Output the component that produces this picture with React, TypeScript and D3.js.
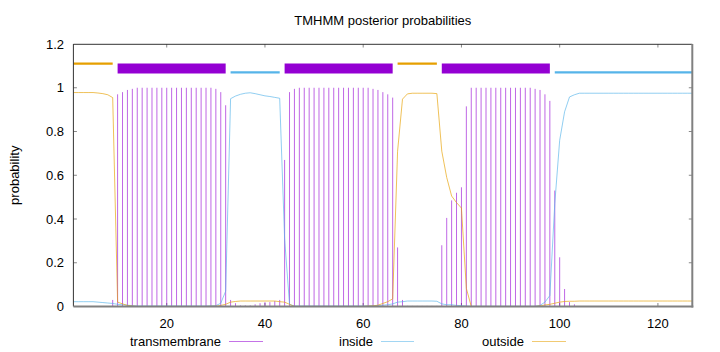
import React from "react";
import * as d3 from "d3";

// ---- data ----
const seqLength = 127;

const tmProb = [
  0, 0, 0, 0, 0, 0, 0, 0.002,
  0.03,
  0.97, 0.98, 0.99, 0.995,
  1, 1, 1, 1, 1, 1, 1, 1, 1, 1, 1, 1, 1, 1, 1, 1,
  0.995, 0.98, 0.92,
  0.03, 0.015, 0.005, 0.005, 0.005, 0.01, 0.015, 0.02, 0.02, 0.025, 0.03,
  0.67, 0.98, 0.995,
  1, 1, 1, 1, 1, 1, 1, 1, 1, 1, 1, 1, 1, 1, 1,
  0.995, 0.99, 0.98, 0.97, 0.955,
  0.27, 0.03,
  0.003, 0.003, 0.003, 0.003, 0.003, 0.003, 0.003,
  0.28, 0.405, 0.485, 0.52, 0.545, 0.915,
  1, 1, 1, 1, 1, 1, 1, 1, 1, 1, 1, 1, 1,
  0.995, 0.99, 0.97, 0.94, 0.53, 0.225, 0.08, 0.02, 0.01,
  0, 0, 0, 0, 0, 0, 0, 0, 0, 0, 0, 0, 0, 0, 0, 0, 0, 0, 0, 0, 0, 0, 0, 0,
];

const insideProb = [
  0.022, 0.022, 0.022, 0.022, 0.022,
  0.02, 0.018, 0.016, 0.014, 0.01, 0.008, 0.006, 0.004,
  0.002, 0.002, 0.002, 0.002, 0.002, 0.002, 0.002, 0.002, 0.002, 0.002, 0.002, 0.002, 0.002, 0.002, 0.002,
  0.003, 0.004, 0.015, 0.07,
  0.95, 0.962, 0.97, 0.975, 0.977, 0.973, 0.968, 0.963, 0.96, 0.956, 0.952,
  0.31, 0.01,
  0.002, 0.002, 0.002, 0.002, 0.002, 0.002, 0.002, 0.002, 0.002, 0.002, 0.002, 0.002, 0.002, 0.002, 0.002,
  0.003, 0.003, 0.004, 0.006, 0.008, 0.012, 0.02, 0.022,
  0.025, 0.025, 0.025, 0.025, 0.025, 0.025,
  0.024, 0.012, 0.008, 0.008, 0.005, 0.004, 0.002,
  0.001, 0.001, 0.001, 0.001, 0.001, 0.001, 0.001, 0.001, 0.001, 0.001, 0.001, 0.001, 0.001, 0.001,
  0.005, 0.02, 0.05, 0.47, 0.76, 0.89, 0.958, 0.968,
  0.975, 0.975, 0.975, 0.975, 0.975, 0.975, 0.975, 0.975, 0.975, 0.975, 0.975, 0.975,
  0.975, 0.975, 0.975, 0.975, 0.975, 0.975, 0.975, 0.975, 0.975, 0.975, 0.975, 0.975,
];

const outsideProb = [
  0.978, 0.978, 0.978, 0.978, 0.978,
  0.976, 0.973, 0.968, 0.955, 0.02, 0.012, 0.005, 0.002,
  0, 0, 0, 0, 0, 0, 0, 0, 0, 0, 0, 0, 0, 0, 0,
  0.001, 0.001, 0.005, 0.01,
  0.02, 0.023, 0.025, 0.025, 0.025, 0.025, 0.025, 0.025, 0.025, 0.025, 0.022,
  0.02, 0.01,
  0, 0, 0, 0, 0, 0, 0, 0, 0, 0, 0, 0, 0, 0, 0,
  0.002, 0.003, 0.006, 0.014, 0.022, 0.035, 0.71, 0.948,
  0.972, 0.975, 0.975, 0.975, 0.975, 0.975,
  0.973, 0.71, 0.59, 0.505, 0.475, 0.45, 0.083,
  0, 0, 0, 0, 0, 0, 0, 0, 0, 0, 0, 0, 0, 0,
  0.003, 0.007, 0.01, 0.015, 0.02, 0.023, 0.024, 0.024,
  0.025, 0.025, 0.025, 0.025, 0.025, 0.025, 0.025, 0.025, 0.025, 0.025, 0.025, 0.025,
  0.025, 0.025, 0.025, 0.025, 0.025, 0.025, 0.025, 0.025, 0.025, 0.025, 0.025, 0.025,
];

const topoStart = [1, 10, 33, 44, 67, 76, 99];
const topoEnd = [9, 32, 43, 66, 75, 98, 127];
const topoType = ["outside", "TM", "inside", "TM", "outside", "TM", "inside"];

const xTicks = [20, 40, 60, 80, 100, 120];
const yTicks = [0, 0.2, 0.4, 0.6, 0.8, 1, 1.2];
const yTickLabels = ["0", "0.2", "0.4", "0.6", "0.8", "1", "1.2"];

const legendLabels = ["transmembrane", "inside", "outside"];

// ---- styling ----
const W = 720;
const H = 352;
const FONT = "'Liberation Sans', Arial, sans-serif";
const TM_COLOR = "#9400D3";
const IN_COLOR = "#56B4E9";
const OUT_COLOR = "#E69F00";

export default function App() {
  const x = d3.scaleLinear().domain([1, seqLength]).range([73.4, 692.3]);
  const y = d3.scaleLinear().domain([0, 1.2]).range([306.5, 44]);
  const positions = d3.range(1, seqLength + 1);

  const line = (vals: number[]) =>
    d3
      .line<number>()
      .x((_, i) => x(positions[i]))
      .y((v) => y(v))(vals) as string;

  const topoY: Record<string, number> = { outside: 1.11, inside: 1.07, TM: 1.088 };
  const topoW: Record<string, number> = { outside: 2.2, inside: 2.2, TM: 10 };
  const topoC: Record<string, string> = { outside: OUT_COLOR, inside: IN_COLOR, TM: TM_COLOR };

  const legendText = [130, 339, 482];
  const legendLine = [
    [229, 263],
    [381, 414],
    [532, 566],
  ];
  const legendColors = [TM_COLOR, IN_COLOR, OUT_COLOR];

  const left = x.range()[0];
  const right = x.range()[1];
  const top = y.range()[1];
  const bottom = y.range()[0];

  return (
    <svg
      width={W}
      height={H}
      style={{ position: "absolute", left: 0, top: 0, background: "#fff" }}
      fontFamily={FONT}
    >
      <rect x={0} y={0} width={W} height={H} fill="#fff" />
      {/* title */}
      <text x={(left + right) / 2} y={25} fontSize={13} textAnchor="middle" fill="#000">
        TMHMM posterior probabilities
      </text>
      {/* y label */}
      <text
        transform={`translate(19,${(top + bottom) / 2}) rotate(-90)`}
        fontSize={13}
        textAnchor="middle"
        fill="#000"
      >
        probability
      </text>

      {/* y ticks */}
      {yTicks.map((t, i) => (
        <g key={"yt" + i}>
          <text x={64} y={y(t) + 4.6} fontSize={13} textAnchor="end" fill="#000">
            {yTickLabels[i]}
          </text>
          {i > 0 && i < yTicks.length - 1 && (
            <>
              <line x1={left} x2={left + 3.5} y1={y(t)} y2={y(t)} stroke="#888" strokeWidth={1} />
              <line x1={right - 3.5} x2={right} y1={y(t)} y2={y(t)} stroke="#888" strokeWidth={1} />
            </>
          )}
        </g>
      ))}
      {/* x ticks */}
      {xTicks.map((t) => (
        <g key={"xt" + t}>
          <text x={x(t)} y={327.5} fontSize={13} textAnchor="middle" fill="#000">
            {t}
          </text>
          <line x1={x(t)} x2={x(t)} y1={top} y2={top + 3.5} stroke="#888" strokeWidth={1} />
          <line x1={x(t)} x2={x(t)} y1={bottom - 3.5} y2={bottom} stroke="#888" strokeWidth={1} />
        </g>
      ))}

      {/* TM impulses */}
      {tmProb.map((v, i) =>
        v > 0 ? (
          <line
            key={"imp" + i}
            x1={x(positions[i])}
            x2={x(positions[i])}
            y1={y(0)}
            y2={y(v)}
            stroke={TM_COLOR}
            strokeOpacity={0.6}
            strokeWidth={1}
          />
        ) : null
      )}

      {/* inside / outside curves */}
      <path d={line(insideProb)} fill="none" stroke={IN_COLOR} strokeOpacity={0.65} strokeWidth={1} />
      <path d={line(outsideProb)} fill="none" stroke={OUT_COLOR} strokeOpacity={0.65} strokeWidth={1} />

      {/* topology */}
      {topoStart.map((s, i) => (
        <line
          key={"topo" + i}
          x1={x(s)}
          x2={x(topoEnd[i])}
          y1={y(topoY[topoType[i]])}
          y2={y(topoY[topoType[i]])}
          stroke={topoC[topoType[i]]}
          strokeWidth={topoW[topoType[i]]}
        />
      ))}

      {/* border */}
      <line x1={left} x2={right} y1={top + 0.3} y2={top + 0.3} stroke="#333" strokeWidth={1} />
      <line x1={left} x2={left} y1={top} y2={bottom} stroke="#333" strokeWidth={1} />
      <line x1={right} x2={right} y1={top} y2={bottom + 1} stroke="#808080" strokeWidth={2} />
      <line x1={left} x2={right + 1} y1={bottom} y2={bottom} stroke="#808080" strokeWidth={2} />

      {/* legend */}
      {legendLabels.map((lab, i) => (
        <g key={"lg" + i}>
          <text x={legendText[i]} y={346} fontSize={13} fill="#000">
            {lab}
          </text>
          <line
            x1={legendLine[i][0]}
            x2={legendLine[i][1]}
            y1={341.5}
            y2={341.5}
            stroke={legendColors[i]}
            strokeOpacity={0.55}
            strokeWidth={1}
          />
        </g>
      ))}
    </svg>
  );
}
